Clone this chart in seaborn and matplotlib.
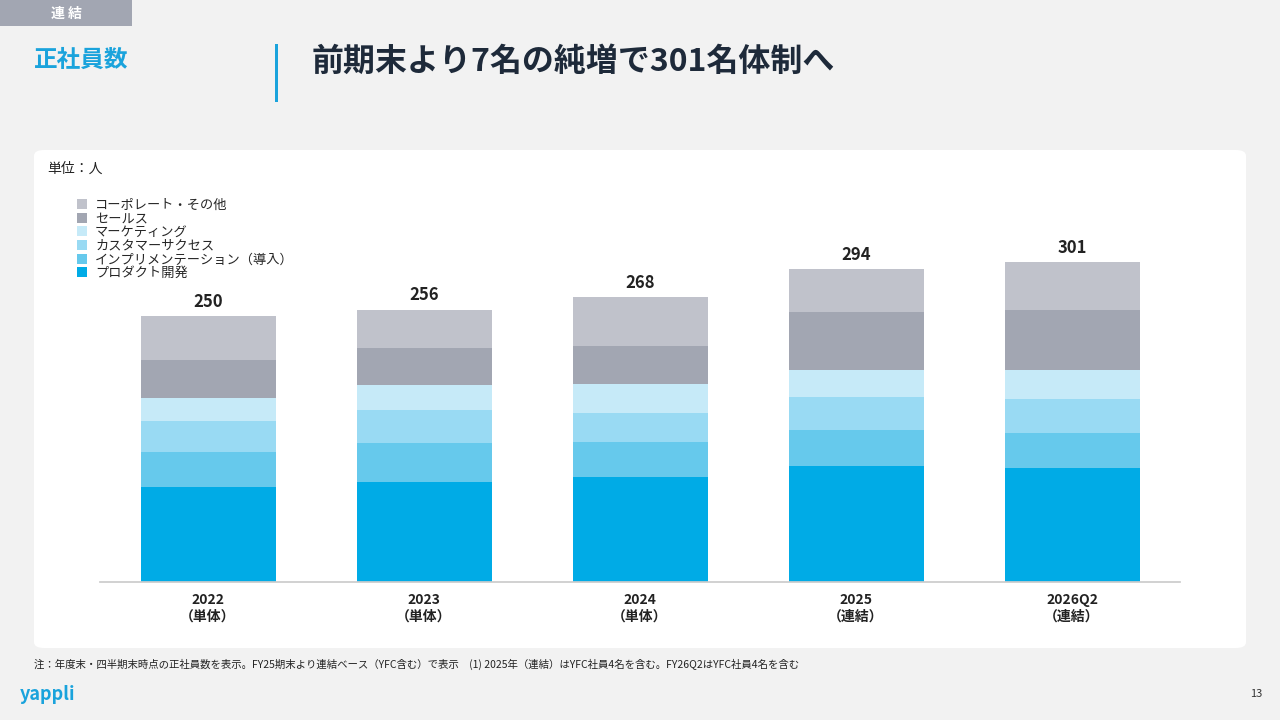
import matplotlib
matplotlib.use("Agg")
import matplotlib.pyplot as plt
import seaborn as sns
import numpy as np
import pandas as pd
from matplotlib.patches import FancyBboxPatch, Rectangle

sns.set_theme(style="white")
plt.rcParams['font.family'] = ['Noto Sans CJK JP', 'DejaVu Sans']

categories = ["2022\n（単体）", "2023\n（単体）", "2024\n（単体）", "2025\n（連結）", "2026Q2\n（連結）"]
series_names = ["プロダクト開発", "インプリメンテーション（導入）", "カスタマーサクセス", "マーケティング", "セールス", "コーポレート・その他"]
product = [89, 94, 99, 109, 107]
implement = [33, 37, 33, 34, 33]
cs = [29, 31, 27, 31, 32]
marketing = [22, 23, 27, 25, 27]
sales = [36, 35, 36, 55, 57]
corporate = [41, 36, 46, 40, 45]
totals = [250, 256, 268, 294, 301]
colors = ["#00ABE6", "#66C9EC", "#99DAF3", "#C6EAF8", "#A2A6B2", "#C0C2CB"]

series = [product, implement, cs, marketing, sales, corporate]

fig = plt.figure(figsize=(12.8, 7.2), dpi=100)
fig.patch.set_facecolor("#F2F2F2")
panel = FancyBboxPatch((34/1280, 1-648/720), (1246-34)/1280, (648-150)/720,
                       boxstyle="round,pad=0,rounding_size=0.008", transform=fig.transFigure,
                       facecolor="white", edgecolor="none", zorder=-5)
fig.patches.append(panel)
fig.patches.append(Rectangle((0, 1-26/720), 132/1280, 26/720, transform=fig.transFigure,
                             facecolor="#A2A6B2", edgecolor="none", zorder=-5))
fig.text(66/1280, 1-14/720, "連 結", color="white", fontsize=10, ha="center", va="center", fontweight="bold")
fig.text(34/1280, 1-60/720, "正社員数", color="#1AA3DC", fontsize=17, fontweight="bold", va="center")
fig.patches.append(Rectangle((275/1280, 1-102/720), 3/1280, 58/720, transform=fig.transFigure,
                             facecolor="#1AA3DC", edgecolor="none", zorder=-5))
fig.text(312/1280, 1-62/720, "前期末より7名の純増で301名体制へ", color="#1E2A3A", fontsize=23, fontweight="bold", va="center")
fig.text(47/1280, 1-169/720, "単位：人", fontsize=10, color="#222222", va="center")
fig.text(34/1280, 1-664/720, "注：年度末・四半期末時点の正社員数を表示。FY25期末より連結ベース（YFC含む）で表示　(1) 2025年（連結）はYFC社員4名を含む。FY26Q2はYFC社員4名を含む",
         fontsize=7.5, color="#222222", va="center")
fig.text(20/1280, 1-694/720, "yappli", fontsize=13, color="#1AA3DC", fontweight="bold", va="center")
fig.text(1262/1280, 1-694/720, "13", fontsize=8, color="#333333", va="center", ha="right")

ax = fig.add_axes([100/1280, 1-582/720, (1180-100)/1280, (582-230)/720])
ax.set_zorder(2)
ax.patch.set_alpha(0)
rows = []
for name, vals in zip(series_names, series):
    for c, v in zip(categories, vals):
        rows.append({"cat": c, "series": name, "val": v})
df = pd.DataFrame(rows)
bottom = np.zeros(len(categories))
for name, col in zip(series_names, colors):
    vals = df[df.series == name]["val"].values
    ax.bar(range(len(categories)), vals, bottom=bottom, color=col, width=0.625, label=name, linewidth=0)
    bottom += vals
for i, t in enumerate(totals):
    ax.text(i, t + 5, str(t), ha="center", va="bottom", fontsize=12, fontweight="bold", color="#222222")
ax.set_xlim(-0.5, 4.5)
ax.set_ylim(0, 331)
ax.set_yticks([])
ax.set_xticks(range(len(categories)))
ax.set_xticklabels(categories, fontsize=10, fontweight="bold", color="#222222")
ax.tick_params(axis="x", length=0, pad=8)
for s in ["top", "right", "left"]:
    ax.spines[s].set_visible(False)
ax.spines["bottom"].set_color("#CCCCCC")
h, l = ax.get_legend_handles_labels()
leg = fig.legend(h[::-1], l[::-1], loc="upper left", bbox_to_anchor=(70/1280, 1-192/720), frameon=False,
                 fontsize=9.5, handlelength=0.8, handleheight=0.8, labelspacing=0.05, handletextpad=0.6, borderpad=0)
plt.savefig("out.png", dpi=100, facecolor=fig.get_facecolor())
